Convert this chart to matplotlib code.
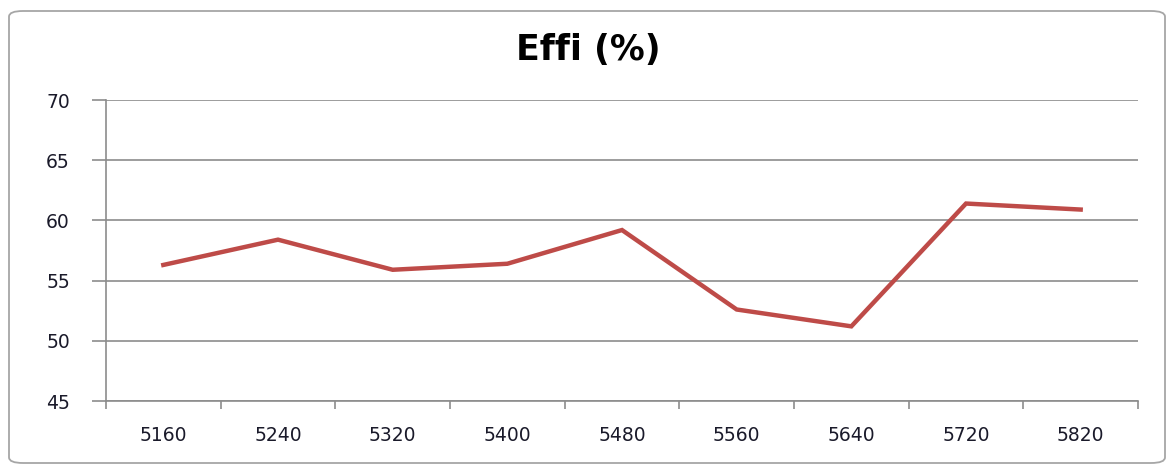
import numpy as np
import matplotlib
matplotlib.use("Agg")
import matplotlib.pyplot as plt
from matplotlib.patches import FancyBboxPatch

# data
freqs = ["5160", "5240", "5320", "5400", "5480", "5560", "5640", "5720", "5820"]
effi = [56.3, 58.4, 55.9, 56.4, 59.2, 52.6, 51.2, 61.4, 60.9]
y_ticks = [45, 50, 55, 60, 65, 70]

GRID = "#8c8c8c"
LINE = "#be4b48"

fig = plt.figure(figsize=(11.71, 4.65), dpi=100)

# rounded chart-area border
border = FancyBboxPatch(
    (9 / 1171, 2 / 465), 1156 / 1171, 452 / 465,
    boxstyle="round,pad=0,rounding_size=0.012",
    transform=fig.transFigure, facecolor="none",
    edgecolor="#a6a6a6", linewidth=1.3, zorder=-1,
)
fig.patches.append(border)

ax = fig.add_axes([106 / 1171, 1 - 401 / 465, 1032 / 1171, 301 / 465])
ax.set_facecolor("none")
ax.set_zorder(2)

x = np.arange(len(freqs))
ax.plot(x, effi, color=LINE, linewidth=3.2, solid_joinstyle="miter", zorder=3)

ax.set_xlim(-0.5, len(freqs) - 0.5)
ax.set_ylim(45, 70)
ax.set_yticks(y_ticks)
ax.set_xticks(x)
ax.set_xticklabels(freqs)
ax.set_xticks(np.arange(len(freqs) + 1) - 0.5, minor=True)

ax.grid(axis="y", color=GRID, linewidth=1.2)
ax.set_axisbelow(True)

for side in ("top", "right"):
    ax.spines[side].set_visible(False)
for side in ("left", "bottom"):
    ax.spines[side].set_color(GRID)
    ax.spines[side].set_linewidth(1.2)

ax.tick_params(axis="y", length=10, width=1.2, color=GRID, pad=16,
               labelsize=13.5, labelcolor="#1a1a2a")
ax.tick_params(axis="x", which="major", length=0, pad=18,
               labelsize=13.5, labelcolor="#1a1a2a")
ax.tick_params(axis="x", which="minor", length=6, width=1.2, color=GRID)

fig.text(588 / 1171, 1 - 50 / 465, "Effi (%)", ha="center", va="center",
         fontsize=25, fontweight="bold", color="black")

fig.savefig("out.png", dpi=100)
